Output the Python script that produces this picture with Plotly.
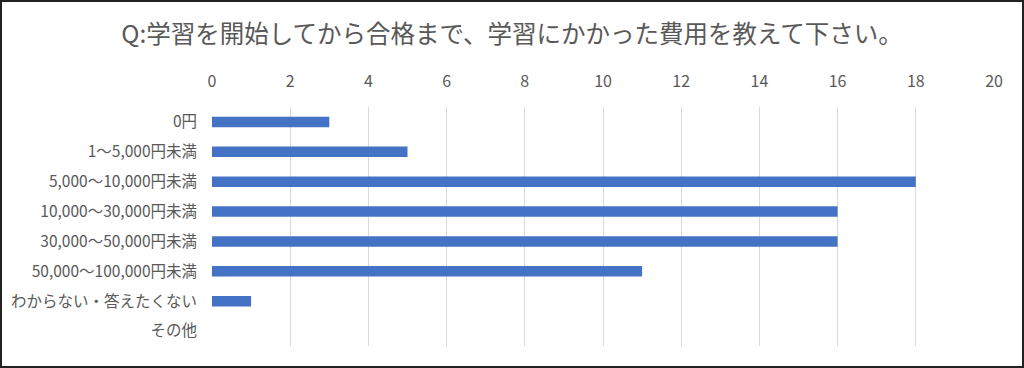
import plotly.graph_objects as go

categories = ["0円", "1～5,000円未満", "5,000～10,000円未満", "10,000～30,000円未満",
              "30,000～50,000円未満", "50,000～100,000円未満", "わからない・答えたくない", "その他"]
values = [3, 5, 18, 16, 16, 11, 1, 0]
tick_vals = list(range(0, 21, 2))
title_text = "Q:学習を開始してから合格まで、学習にかかった費用を教えて下さい。"

W, H = 1024, 368
L, R, T, B = 212, 30, 107, 22
pw, ph = W - L - R, H - T - B

fig = go.Figure(go.Bar(
    y=categories, x=values, orientation="h",
    marker=dict(color="#4472C4", line=dict(width=0)),
))

fig.update_layout(
    width=W, height=H,
    margin=dict(l=L, r=R, t=T, b=B),
    paper_bgcolor="white", plot_bgcolor="white",
    font=dict(family="Noto Sans CJK JP", color="#595959", size=15),
    title=dict(text=title_text, x=0.5, xref="container", xanchor="center",
               y=1 - 34 / H, yanchor="middle", yref="container",
               font=dict(size=24.5, color="#595959")),
    bargap=0.65,
    showlegend=False,
    shapes=[dict(type="rect", xref="paper", yref="paper",
                 x0=(1 - L) / pw, x1=(W - 1 - L) / pw,
                 y0=-(B - 1) / ph, y1=1 + (T - 1) / ph,
                 line=dict(color="#222222", width=2))],
)
fig.update_xaxes(side="top", range=[0, 20], tickvals=tick_vals,
                 showgrid=True, gridcolor="#D9D9D9", gridwidth=1,
                 zeroline=False, showline=False, ticks="",
                 ticklabelstandoff=16, tickfont=dict(size=16, color="#595959"))
fig.update_yaxes(autorange="reversed", showgrid=False, showline=False, ticks="",
                 ticklabelstandoff=14, tickfont=dict(size=15.5, color="#595959"))

fig.write_html("out.html", config={"displayModeBar": False},
               post_script="document.body.style.margin='0';document.documentElement.style.margin='0';")
